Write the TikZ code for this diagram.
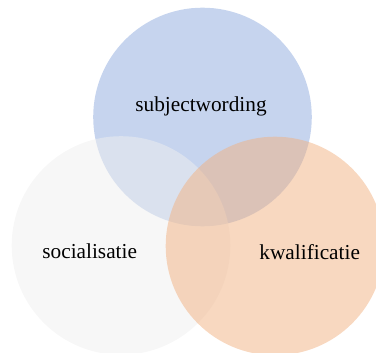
\documentclass[tikz,border=0pt]{standalone}
\usepackage{fontspec}
\setmainfont{Liberation Serif}
\definecolor{cblue}{HTML}{8DA9DD}
\definecolor{cgray}{HTML}{EFEFEF}
\definecolor{corange}{HTML}{F1B181}
\begin{document}
\begin{tikzpicture}[x=1pt,y=-1pt,
  venn/.style={fill opacity=0.5, draw=none},
  lbl/.style={font=\fontsize{21.3}{25}\selectfont, text=black, inner sep=0pt, anchor=base}]
\useasboundingbox (0,0) rectangle (376,353);
\begin{scope}
\clip (0,0) rectangle (376,353);
\fill[venn, cblue] (202.5,117) circle (109.3);
\fill[venn, cgray] (121,245.5) circle (109.3);
\fill[venn, corange] (275,246) circle (109.3);
\end{scope}
\node[lbl] (subj) at (201,111.7) {subjectwording};
\node[lbl] (soc) at (89.7,258.3) {socialisatie};
\node[lbl] (kwal) at (309.7,260) {kwalificatie};
\end{tikzpicture}
\end{document}
